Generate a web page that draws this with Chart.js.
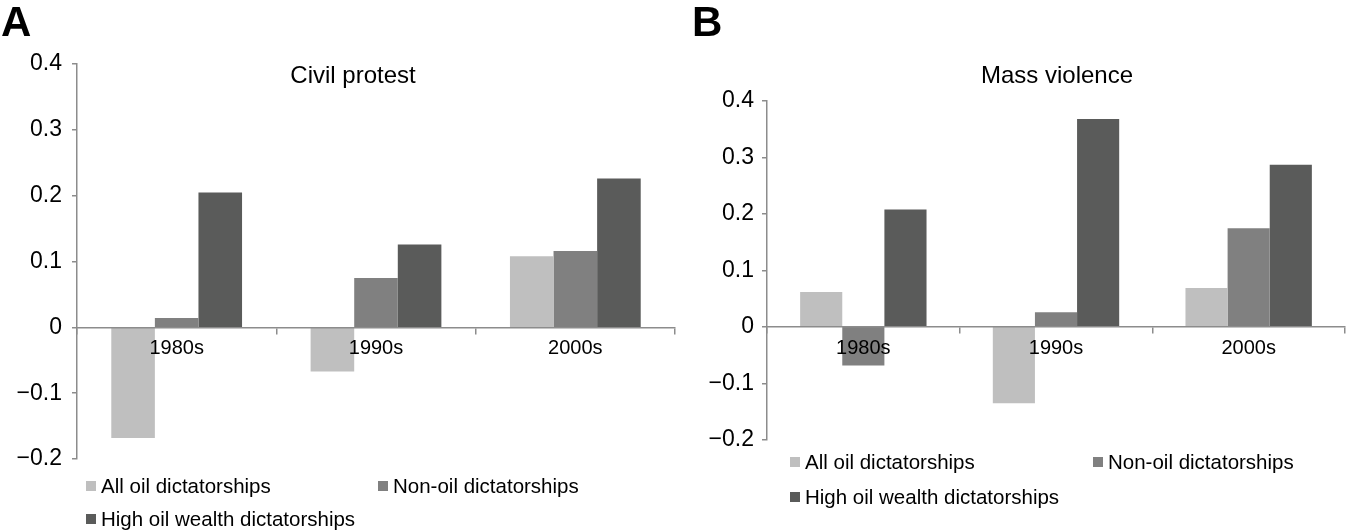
<!DOCTYPE html>
<html>
<head>
<meta charset="utf-8">
<script src="https://cdn.jsdelivr.net/npm/chart.js@4.4.1/dist/chart.umd.min.js"></script>
<style>
  body { margin: 0; background: #fff; font-family: "Liberation Sans", Arial, sans-serif; }
  #wrap { position: relative; width: 1347px; height: 530px; overflow: hidden; }
  canvas { position: absolute; top: 0; }
  .panel { position: absolute; font-weight: bold; font-size: 42px; line-height: 42px; color: #000; }
  .title { position: absolute; font-size: 24px; line-height: 24px; color: #000; transform: translateX(-50%); white-space: nowrap; }
  .leg { position: absolute; display: flex; align-items: center; height: 20px; font-size: 20.5px; color: #000; white-space: nowrap; }
  .leg span.box { width: 10px; height: 10px; margin-right: 5px; display: inline-block; }
</style>
</head>
<body>
<div id="wrap">
  <canvas id="chartProtest" style="left:0px"></canvas>
  <canvas id="chartViolence" style="left:680px"></canvas>
  <div class="panel" style="left:1px; top:1px">A</div>
  <div class="panel" style="left:692px; top:1px">B</div>
  <div class="title" style="left:353px; top:63px">Civil protest</div>
  <div class="title" style="left:1057px; top:63px">Mass violence</div>
  <div id="legends"></div>
</div>
<script>
// === Datos ===
const decades = ["1980s", "1990s", "2000s"];
const seriesNames = ["All oil dictatorships", "Non-oil dictatorships", "High oil wealth dictatorships"];
const seriesColors = ["#bfbfbf", "#808080", "#5a5b5a"];

// A: civil protest
const protestAllOil = [-0.168, -0.067, 0.108];
const protestNonOil = [0.014, 0.075, 0.116];
const protestHighOil = [0.205, 0.126, 0.226];

// B: mass violence
const violenceAllOil = [0.062, -0.135, 0.069];
const violenceNonOil = [-0.068, 0.026, 0.175];
const violenceHighOil = [0.208, 0.368, 0.287];

const yMin = -0.2, yMax = 0.4, yStep = 0.1;

const axisGray = "#8c8c8c";
const fontFamily = "'Liberation Sans', Arial, sans-serif";

function fmtTick(v) {
    const r = Math.round(v * 10) / 10;
    if (r === 0) return "0";
    return r < 0 ? "\u2212" + Math.abs(r).toFixed(1) : r.toFixed(1);
}

// === Render Chart ===
function renderChart(canvasId, w, h, values, yWidth, pad, labelPad) {
    const cv = document.getElementById(canvasId);
    cv.style.width = w + "px";
    cv.style.height = h + "px";
    cv.width = w; cv.height = h;
    new Chart(cv.getContext("2d"), {
        type: "bar",
        data: {
            labels: decades,
            datasets: values.map((data, i) => ({
                label: seriesNames[i], data,
                backgroundColor: seriesColors[i],
                borderWidth: 0,
                categoryPercentage: 0.656,
                barPercentage: 1.0,
            })),
        },
        options: {
            responsive: false,
            animation: false,
            devicePixelRatio: 1,
            layout: { padding: pad },
            plugins: { legend: { display: false }, title: { display: false }, tooltip: { enabled: false } },
            scales: {
                x: {
                    position: { y: 0 },
                    grid: { display: true, offset: true, drawOnChartArea: false, drawTicks: true, tickLength: 6, color: axisGray, lineWidth: 1.5 },
                    border: { display: true, color: axisGray, width: 1.5, z: 1 },
                    // labels sit on top of the bars like the original
                    ticks: { z: 2, color: "#000", padding: 3, font: { family: fontFamily, size: 20 } },
                },
                y: {
                    min: yMin, max: yMax,
                    afterFit: s => { s.width = yWidth; },
                    grid: { display: true, drawOnChartArea: false, drawTicks: true, tickLength: 5, color: axisGray, lineWidth: 1.5 },
                    border: { display: true, color: axisGray, width: 1.5 },
                    ticks: { stepSize: yStep, color: "#000", padding: labelPad, callback: v => fmtTick(v), font: { family: fontFamily, size: 23 } },
                },
            },
        },
    });
}

// === Leyendas ===
function renderLegend(spots) {
    const box = document.getElementById("legends");
    spots.forEach(([x, y], i) => {
        const d = document.createElement("div");
        d.className = "leg";
        d.style.left = x + "px";
        d.style.top = (y - 10) + "px";
        d.innerHTML = `<span class="box" style="background:${seriesColors[i]}"></span>${seriesNames[i]}`;
        box.appendChild(d);
    });
}

renderChart("chartProtest", 680, 530, [protestAllOil, protestNonOil, protestHighOil], 77,
    { top: 64, bottom: 71, left: 0, right: 5 }, 10);
renderChart("chartViolence", 667, 530, [violenceAllOil, violenceNonOil, violenceHighOil], 87,
    { top: 101, bottom: 90, left: 0, right: 2 }, 8);

renderLegend([[86, 486], [378, 486], [86, 519]]);
renderLegend([[790, 462], [1093, 462], [790, 497]]);
</script>
</body>
</html>
